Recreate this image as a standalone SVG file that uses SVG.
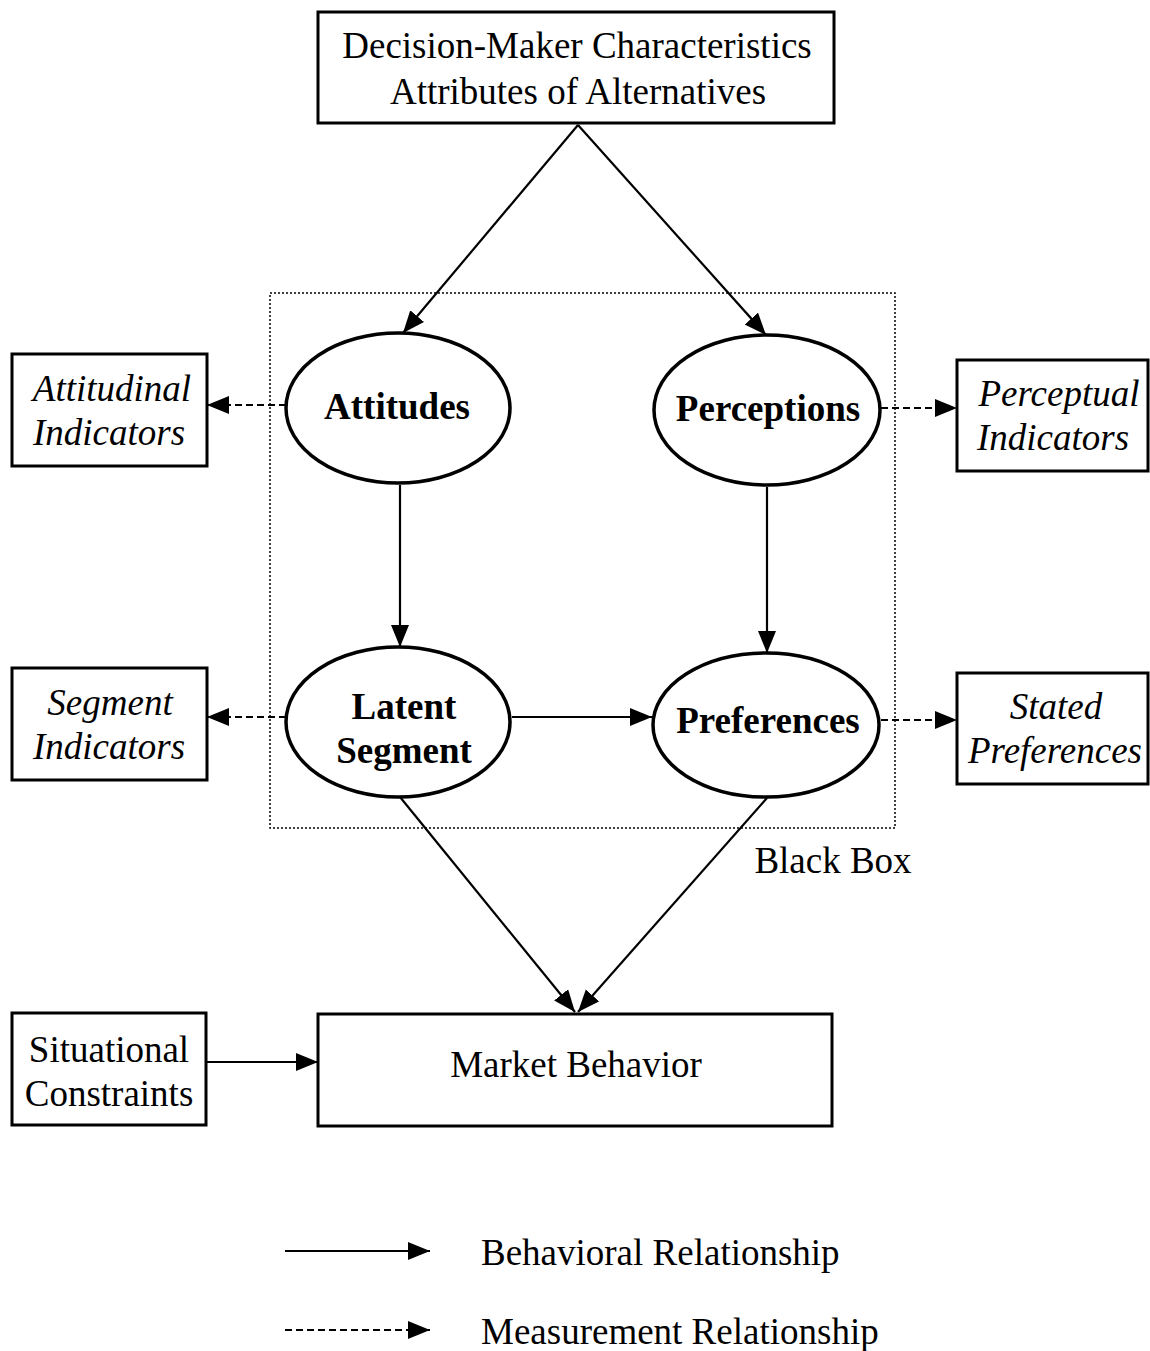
<svg xmlns="http://www.w3.org/2000/svg" width="1150" height="1351" viewBox="0 0 1150 1351">
  <style>
    .box { fill: #fff; stroke: #000; stroke-width: 3; }
    .oval { fill: #fff; stroke: #000; stroke-width: 3.5; }
    .t { font-family: "Liberation Serif", "Times New Roman", serif; font-size: 37px; fill: #000; text-anchor: middle; }
    .b { font-weight: bold; }
    .i { font-style: italic; }
    .solid { stroke: #000; stroke-width: 2.2; fill: none; marker-end: url(#arrow); }
    .dash { stroke: #000; stroke-width: 2.2; fill: none; stroke-dasharray: 7 4; marker-end: url(#arrow); }
    .frame { fill: none; stroke: #000; stroke-width: 1.5; stroke-dasharray: 2 2; }
  </style>
  <defs>
    <marker id="arrow" markerUnits="userSpaceOnUse" markerWidth="24" markerHeight="20" refX="22" refY="9" orient="auto">
      <path d="M0,0 L22,9 L0,18 Z" fill="#000"/>
    </marker>
  </defs>
  <rect width="1150" height="1351" fill="#fff"/>

  <!-- black box frame -->
  <g id="black-box">
    <rect class="frame" x="270" y="293" width="625" height="535"/>
    <text class="t" x="833" y="873">Black Box</text>
  </g>

  <!-- connectors -->
  <g id="connectors">
    <line class="solid" x1="578" y1="125" x2="403" y2="333"/>
    <line class="solid" x1="578" y1="125" x2="766" y2="335"/>
    <line class="solid" x1="400" y1="485" x2="400" y2="647"/>
    <line class="solid" x1="767" y1="487" x2="767" y2="653"/>
    <line class="solid" x1="512" y1="717" x2="652" y2="717"/>
    <line class="solid" x1="400" y1="797" x2="575" y2="1012"/>
    <line class="solid" x1="767" y1="798" x2="578" y2="1012"/>
    <line class="solid" x1="207" y1="1062" x2="318" y2="1062"/>
    <line class="dash" x1="286" y1="405" x2="207" y2="405"/>
    <line class="dash" x1="881" y1="408" x2="957" y2="408"/>
    <line class="dash" x1="286" y1="717" x2="207" y2="717"/>
    <line class="dash" x1="881" y1="720" x2="957" y2="720"/>
  </g>

  <g id="decision-maker">
    <rect class="box" x="318" y="12" width="516" height="111"/>
    <text class="t" x="577" y="58">Decision-Maker Characteristics</text>
    <text class="t" x="578" y="104">Attributes of Alternatives</text>
  </g>

  <g id="attitudes">
    <ellipse class="oval" cx="398" cy="408" rx="112" ry="75"/>
    <text class="t b" x="397" y="419">Attitudes</text>
  </g>

  <g id="perceptions">
    <ellipse class="oval" cx="767" cy="410" rx="113" ry="75"/>
    <text class="t b" x="768" y="421">Perceptions</text>
  </g>

  <g id="latent-segment">
    <ellipse class="oval" cx="398" cy="722" rx="112" ry="75"/>
    <text class="t b" x="404" y="719">Latent</text>
    <text class="t b" x="404" y="763">Segment</text>
  </g>

  <g id="preferences">
    <ellipse class="oval" cx="766" cy="725" rx="113" ry="72"/>
    <text class="t b" x="768" y="733">Preferences</text>
  </g>

  <g id="attitudinal-indicators">
    <rect class="box" x="12" y="354" width="195" height="112"/>
    <text class="t i" x="112" y="401">Attitudinal</text>
    <text class="t i" x="109" y="445">Indicators</text>
  </g>

  <g id="perceptual-indicators">
    <rect class="box" x="957" y="360" width="191" height="111"/>
    <text class="t i" x="1059" y="406">Perceptual</text>
    <text class="t i" x="1053" y="450">Indicators</text>
  </g>

  <g id="segment-indicators">
    <rect class="box" x="12" y="668" width="195" height="112"/>
    <text class="t i" x="110" y="715">Segment</text>
    <text class="t i" x="109" y="759">Indicators</text>
  </g>

  <g id="stated-preferences">
    <rect class="box" x="957" y="673" width="191" height="111"/>
    <text class="t i" x="1056" y="719">Stated</text>
    <text class="t i" x="1055" y="763">Preferences</text>
  </g>

  <g id="situational-constraints">
    <rect class="box" x="12" y="1013" width="194" height="112"/>
    <text class="t" x="109" y="1062">Situational</text>
    <text class="t" x="109" y="1106">Constraints</text>
  </g>

  <g id="market-behavior">
    <rect class="box" x="318" y="1014" width="514" height="112"/>
    <text class="t" x="576" y="1077">Market Behavior</text>
  </g>

  <!-- legend -->
  <g id="legend">
    <line class="solid" x1="285" y1="1251" x2="430" y2="1251"/>
    <line class="dash" x1="285" y1="1330" x2="430" y2="1330"/>
    <text class="t" x="481" y="1265" style="text-anchor:start">Behavioral Relationship</text>
    <text class="t" x="481" y="1344" style="text-anchor:start">Measurement Relationship</text>
  </g>
</svg>
